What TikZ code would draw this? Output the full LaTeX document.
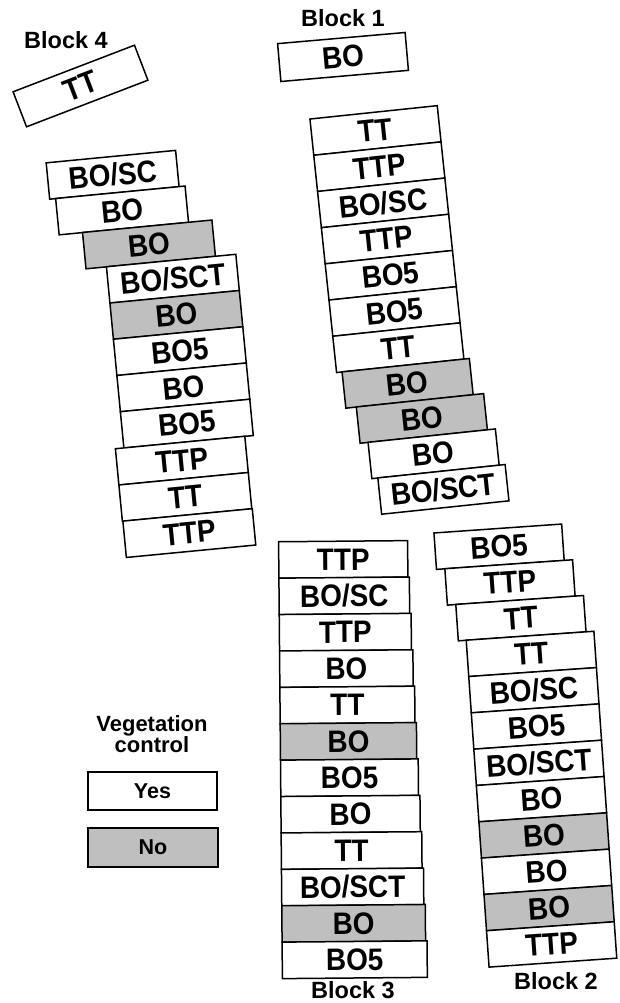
\documentclass[tikz,border=0pt]{standalone}
\usepackage{fontspec}
\setmainfont{Liberation Sans}
\newfontfamily\plotfont[FakeStretch=0.9]{Liberation Sans}
\usetikzlibrary{positioning}

\tikzstyle{plot} = [
rectangle,
minimum width=128pt,
minimum height=36.5pt,
inner sep=0pt,
text centered,
draw=black,
line width=1.5pt,
font=\plotfont\fontsize{31}{32}\selectfont\bfseries,
transform shape
]
\tikzstyle{vegyes} = [
fill=white
]
\tikzstyle{vegno} = [
fill=gray!50
]
\tikzstyle{blocklabel} = [
font=\fontsize{23.5}{25}\selectfont\bfseries
]
\tikzstyle{legendtext} = [
align=center,
font=\fontsize{22}{21}\selectfont\bfseries
]

\begin{document}
\begin{tikzpicture}[
x=1pt,
y=-1pt
]
\useasboundingbox (0,0) rectangle (619,1003);
\def\pitch{36.4}

% Block 1
\node (b1-top) [plot, vegyes, rotate=5, minimum height=38pt] at (343,57) {BO};
\begin{scope}[shift={(375.5,130.5)}, rotate=6]
\foreach \dx/\lab/\veg [count=\i from 0] in {
0/TT/vegyes, 0/TTP/vegyes, 0/{BO/SC}/vegyes, 0/TTP/vegyes,
0/BO5/vegyes, 0/BO5/vegyes, 0/TT/vegyes, 5.5/BO/vegno,
16/BO/vegno, 24/BO/vegyes, 30/{BO/SCT}/vegyes}
\node (b1-\i) [plot, \veg] at (\dx,\pitch*\i) {\lab};
\end{scope}

% Block 4
\node (b4-top) [plot, vegyes, rotate=21, minimum width=130pt, minimum height=37.5pt] at (80.5,86) {TT};
\begin{scope}[shift={(162.4,170)}, rotate=5.5]
\foreach \dx/\lab/\veg [count=\i from 0] in {
-50/{BO/SC}/vegyes, -44/BO/vegyes, -20.5/BO/vegno, 0/{BO/SCT}/vegyes,
0/BO/vegno, 0/BO5/vegyes, 0/BO/vegyes, 0/BO5/vegyes,
-8.5/TTP/vegyes, -8.5/TT/vegyes, -8/TTP/vegyes}
\node (b4-\i) [plot, \veg, minimum width=130pt] at (\dx,\pitch*\i) {\lab};
\end{scope}

% Block 3
\begin{scope}[shift={(278,560)}, rotate=0.5]
\foreach \lab/\veg [count=\i from 0] in {
TTP/vegyes, {BO/SC}/vegyes, TTP/vegyes, BO/vegyes,
TT/vegyes, BO/vegno, BO5/vegyes, BO/vegyes,
TT/vegyes, {BO/SCT}/vegyes, BO/vegno, BO5/vegyes}
\node (b3-\i) [plot, \veg, anchor=west, minimum width={129pt+1.45pt*\i}] at (0,\pitch*\i) {\lab};
\end{scope}

% Block 2
\begin{scope}[shift={(523.7,545)}, rotate=4]
\foreach \dx/\lab/\veg [count=\i from 0] in {
-24.7/BO5/vegyes, -16.3/TTP/vegyes, -7.9/TT/vegyes, 0/TT/vegyes,
0/{BO/SC}/vegyes, 0/BO5/vegyes, 0/{BO/SCT}/vegyes, 0/BO/vegyes,
0/BO/vegno, 0/BO/vegyes, 0/BO/vegno, 0/TTP/vegyes}
\node (b2-\i) [plot, \veg] at (\dx,\pitch*\i) {\lab};
\end{scope}

% Block labels
\node (lab1) [blocklabel] at (343,18) {Block 1};
\node (lab4) [blocklabel] at (66,40) {Block 4};
\node (lab3) [blocklabel] at (353,990) {Block 3};
\node (lab2) [blocklabel] at (556,981) {Block 2};

% Legend
\node (legtitle) [legendtext] at (152,734) {Vegetation\\control};
\node (legyes) [plot, vegyes, minimum width=129pt, minimum height=38pt, font=\fontsize{21.5}{22}\selectfont\bfseries] at (152.5,791) {Yes};
\node (legno) [plot, vegno, minimum width=130pt, minimum height=39pt, font=\fontsize{21.5}{22}\selectfont\bfseries] at (153,847.5) {No};

\end{tikzpicture}
\end{document}
